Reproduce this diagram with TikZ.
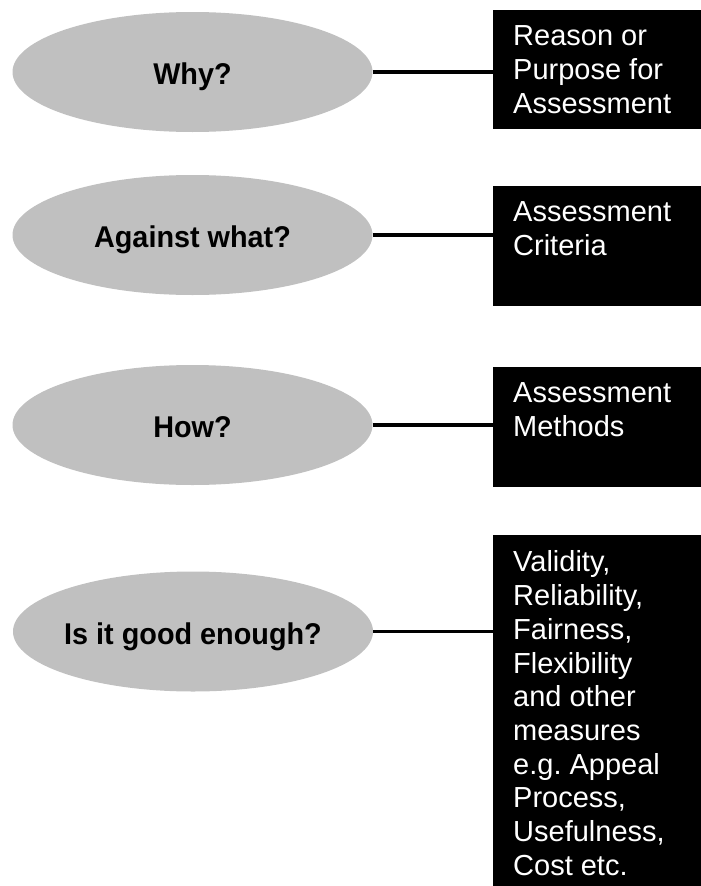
\documentclass[tikz,border=0pt]{standalone}
\usepackage{fontspec}
\setmainfont{Liberation Sans}
\newfontfamily\qfont[FakeStretch=0.96]{Liberation Sans}
\usetikzlibrary{shapes.geometric}
\definecolor{qgray}{RGB}{192,192,192}
\frenchspacing
\begin{document}
\begin{tikzpicture}[x=1pt,y=-1pt,
  question/.style={ellipse, fill=qgray, draw=none, minimum width=360pt,
    minimum height=120pt, inner sep=0pt},
  questiontext/.style={inner sep=0pt,
    font=\qfont\fontsize{30}{34}\selectfont\bfseries,
    text height=25pt, text depth=0pt},
  answerbox/.style={rectangle, fill=black, draw=none, anchor=north west,
    minimum width=208pt, inner sep=0pt},
  answertext/.style={anchor=north west, inner sep=0pt, align=left,
    text=white, font=\fontsize{29}{33.7}\selectfont},
  link/.style={line width=3.5pt, draw=black}]

\useasboundingbox (0,0) rectangle (701,886);

% questions
\node[question] (e1) at (192.5,72)  {};
\node[question] (e2) at (192.5,235) {};
\node[question] (e3) at (192.5,425) {};
\node[question] (e4) at (193,631.5) {};
\node[questiontext] (q1) at (e1.center) {Why?};
\node[questiontext] (q2) at (e2.center) {Against what?};
\node[questiontext] (q3) at (e3.center) {How?};
\node[questiontext] (q4) at (e4.center) {Is it good enough?};

% answer boxes
\node[answerbox, minimum height=119pt] (b1) at (493,10)  {};
\node[answerbox, minimum height=120pt] (b2) at (493,186) {};
\node[answerbox, minimum height=120pt] (b3) at (493,367) {};
\node[answerbox, minimum height=351pt] (b4) at (493,535) {};

% answer texts
\node[answertext] (t1) at (513,25.7)  {Reason or\\Purpose for\\Assessment};
\node[answertext] (t2) at (513,201.7) {Assessment\\Criteria};
\node[answertext] (t3) at (513,382.7) {Assessment\\Methods};
\node[answertext] (t4) at (513,550.7) {Validity,\\Reliability,\\Fairness,\\Flexibility\\and other\\measures\\e.g. Appeal\\Process,\\Usefulness,\\Cost etc.};

% connectors
\draw[link] (e1.east) -- (e1.east -| b1.west);
\draw[link] (e2.east) -- (e2.east -| b2.west);
\draw[link] (e3.east) -- (e3.east -| b3.west);
\draw[link] (e4.east) -- (e4.east -| b4.west);
\end{tikzpicture}
\end{document}
